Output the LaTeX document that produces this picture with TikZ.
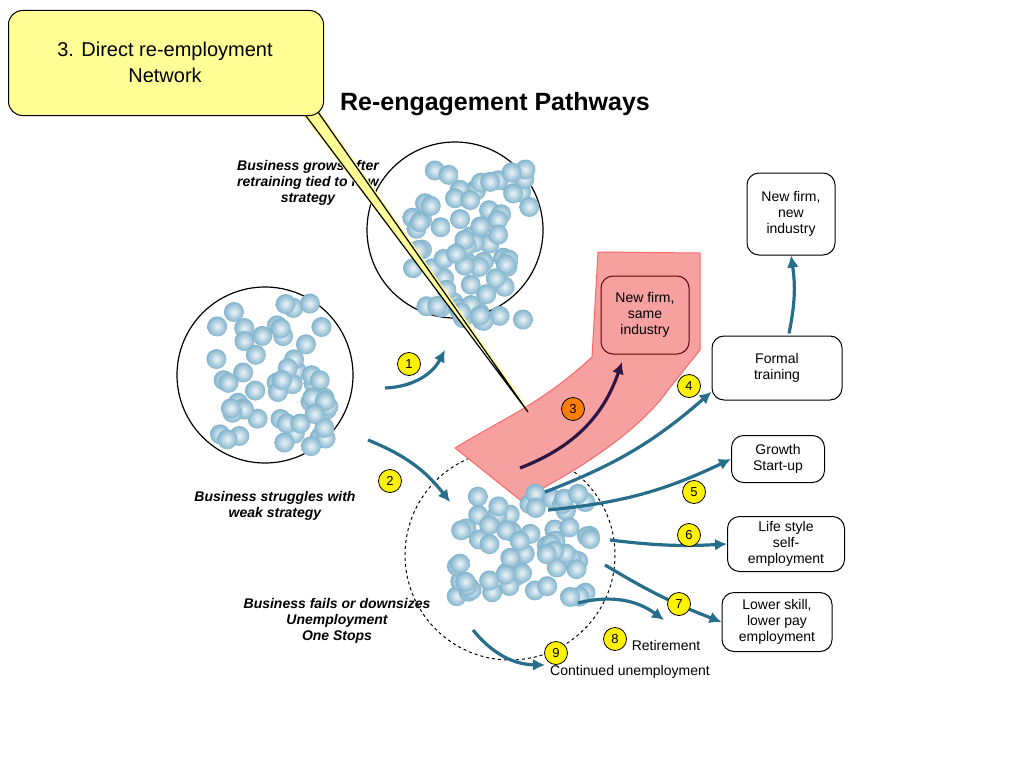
\documentclass[tikz,border=0pt]{standalone}
\usepackage{fontspec}
\setmainfont{Liberation Sans}
\usetikzlibrary{arrows.meta,positioning}

\definecolor{arrowblue}{RGB}{38,110,140}
\definecolor{bandred}{RGB}{246,160,160}
\definecolor{calloutyellow}{RGB}{255,255,150}
\definecolor{ballblue}{RGB}{130,180,205}

\tikzset{
  pathbox/.style={draw,line width=1pt,rounded corners=12pt,fill=white,align=center,font=\fontsize{14}{16}\selectfont,inner sep=3pt},
  numdot/.style={circle,draw,line width=0.8pt,fill=yellow,inner sep=0pt,minimum size=23pt,font=\fontsize{13}{14}\selectfont},
  flow/.style={-{Latex[length=12pt,width=12pt]},line width=3.2pt,arrowblue},
  blurb/.style={align=center,font=\fontsize{14}{16}\selectfont\bfseries\itshape},
  ball/.style={inner color=white!85!ballblue,outer color=ballblue},
}

\begin{document}
\begin{tikzpicture}[x=1pt,y=-1pt]
  \useasboundingbox (0,0) rectangle (1024,768);
  % groups of people
  \draw[line width=1.2pt] (455,230) circle (88);
  \draw[line width=1.2pt] (265,375) circle (88);
  \draw[dashed,line width=1pt] (510,555) circle (105);
  \pgfmathsetseed{7}
  \foreach \i in {1,...,70}{
    \pgfmathsetmacro{\bx}{475+66*rand}
    \pgfmathsetmacro{\by}{245+76*rand}
    \shade[ball] (\bx,\by) circle (10);
  }
  \foreach \i in {1,...,55}{
    \pgfmathsetmacro{\bx}{272+58*rand}
    \pgfmathsetmacro{\by}{375+72*rand}
    \shade[ball] (\bx,\by) circle (10);
  }
  % red pathway band
  \fill[bandred,draw=red!60,line width=1pt] (455,448) .. controls (500,420) and (540,405) .. (592,357)
    -- (598,252) -- (700,253) -- (700,350) -- (668,390)
    .. controls (640,430) and (580,470) .. (520,500) -- cycle;
  \foreach \i in {1,...,65}{
    \pgfmathsetmacro{\bx}{522+70*rand}
    \pgfmathsetmacro{\by}{545+52*rand}
    \shade[ball] (\bx,\by) circle (10);
  }
  % pathway boxes
  \node[pathbox,fill=bandred,draw=red!40!black,minimum width=88pt,minimum height=78pt] (same) at (645,315) {New firm,\\same\\industry};
  \node[pathbox,minimum width=88pt,minimum height=82pt] (newind) at (791,214) {New firm,\\new\\industry};
  \node[pathbox,minimum width=130pt,minimum height=64pt] (formal) at (777,368) {Formal\\training};
  \node[pathbox,minimum width=93pt,minimum height=47pt] (growth) at (778,459) {Growth\\Start-up};
  \node[pathbox,minimum width=117pt,minimum height=55pt] (life) at (786,544) {Life style\\self-\\employment};
  \node[pathbox,minimum width=110pt,minimum height=59pt] (lower) at (777,622) {Lower skill,\\lower pay\\employment};
  \node[font=\fontsize{14}{16}\selectfont] (retire) at (666,645) {Retirement};
  \node[font=\fontsize{14}{16}\selectfont] (contin) at (630,672) {Continued unemployment};
  % arrows
  \coordinate (s1) at (385,388); \coordinate (s2) at (368,440);
  \coordinate (s3) at (520,468); \coordinate (s4) at (545,492);
  \coordinate (s5) at (548,510); \coordinate (s6) at (610,540);
  \coordinate (s7) at (605,565); \coordinate (s8) at (578,603);
  \coordinate (s9) at (473,630);
  \draw[flow] (s1) to[bend right=30] (445,350);
  \draw[flow] (s2) to[bend left=15] (450,502);
  \draw[flow,arrowblue!40!violet!50!black] (s3) to[bend right=25] (622,362);
  \draw[flow] (s4) to[bend right=10] (formal.200);
  \draw[flow] (s5) to[bend right=10] (growth.west);
  \draw[flow] (s6) to[bend right=5] (life.west);
  \draw[flow] (s7) to[bend right=5] (lower.west);
  \draw[flow] (s8) to[bend left=25] (664,620);
  \draw[flow] (s9) to[bend right=25] (545,665);
  \draw[flow] (formal.north) ++(12,-2) to[bend right=10] (newind.south);
  % numbers
  \node[numdot] (n1) at (409,364) {1};
  \node[numdot] (n2) at (390,481) {2};
  \node[numdot,fill=orange] (n3) at (573,409) {3};
  \node[numdot] (n4) at (689,386) {4};
  \node[numdot] (n5) at (694,492) {5};
  \node[numdot] (n6) at (689,535) {6};
  \node[numdot] (n7) at (679,604) {7};
  \node[numdot] (n8) at (615,639) {8};
  \node[numdot] (n9) at (556,653) {9};
  % captions
  \node[blurb] (grow) at (308,183) {Business grows after\\retraining tied to new\\strategy};
  \node[blurb] (strug) at (275,506) {Business struggles with\\weak strategy};
  \node[blurb] (fails) at (337,621) {Business fails or downsizes\\Unemployment\\One Stops};
  \node[font=\fontsize{25}{28}\selectfont\bfseries] (title) at (495,104) {Re-engagement Pathways};
  % callout
  \fill[calloutyellow] (300,112) -- (531,412) -- (320,112) -- cycle;
  \draw[line width=1.2pt] (303,112) -- (528,412) -- (318,112);
  \node[draw,line width=1pt,fill=calloutyellow,rounded corners=14pt,minimum width=315pt,minimum height=105pt,anchor=north west] (callout) at (8,10) {};
  \node[align=center,font=\fontsize{20}{26}\selectfont,anchor=north] (callouttext) at (165,38) {3. Direct re-employment\\Network};
\end{tikzpicture}
\end{document}
